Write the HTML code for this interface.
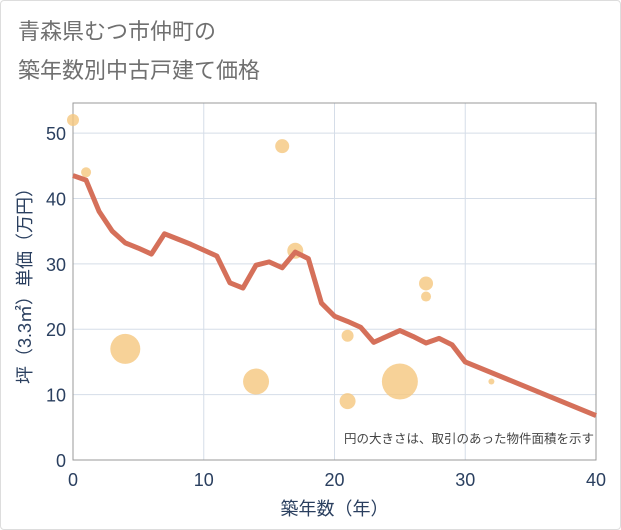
<!DOCTYPE html>
<html><head><meta charset="utf-8"><style>
body{margin:0;background:#fff;font-family:"Liberation Sans","Noto Sans CJK JP",sans-serif;}
#card{position:absolute;left:0;top:0;width:619px;height:528px;border:1px solid #ddd;border-radius:4px;}
</style></head><body>
<div id="card"></div>
<svg id="chart" width="621" height="530" style="position:absolute;left:0;top:0">
<text x="18" y="39" font-size="22" fill="#707070">青森県むつ市仲町の</text>
<text x="18" y="78" font-size="22" fill="#707070">築年数別中古戸建て価格</text>
</svg>
<script>
const xTicks=[0,10,20,30,40];
const yTicks=[0,10,20,30,40,50];
const lineX=[0,1,2,3,4,5,6,7,8,9,10,11,12,13,14,15,16,17,18,19,20,21,22,23,24,25,26,27,28,29,30,40];
const lineY=[43.5,42.8,38,35,33.2,32.4,31.5,34.6,33.8,33,32.1,31.2,27.1,26.3,29.8,30.3,29.4,31.8,30.8,24,22,21.2,20.3,18,18.9,19.8,18.9,17.9,18.6,17.6,15,6.8];
const bubX=[0,1,4,14,16,17,21,21,25,27,27,32];
const bubY=[52,44,17,12,48,32,19,9,12,27,25,12];
const bubR=[6,5,15,13,7,8,6,8,18,7,5,3];
const L=73,R=596,T=103,B=460;
const sx=v=>L+(R-L)*v/40;
const sy=v=>B-(B-T)*v/54.6;
const svg=document.getElementById('chart');
const NS='http://www.w3.org/2000/svg';
const TC='#2a3f5f';
function mk(t,a){const e=document.createElementNS(NS,t);for(const k in a)e.setAttribute(k,a[k]);svg.appendChild(e);return e;}
xTicks.forEach(v=>{const g=mk('line',{x1:sx(v),x2:sx(v),y1:T,y2:B,stroke:'#d5dde8','stroke-width':1});

const t=mk('text',{x:sx(v),y:B+26,'text-anchor':'middle','font-size':18,fill:TC});t.textContent=v;
});
yTicks.forEach(v=>{const g=mk('line',{x1:L,x2:R,y1:sy(v),y2:sy(v),stroke:'#d5dde8','stroke-width':1});

const t=mk('text',{x:L-7,y:sy(v)+7,'text-anchor':'end','font-size':18,fill:TC});t.textContent=v;
});
const box=mk('rect',{x:L,y:T,width:R-L,height:B-T,fill:'none',stroke:'#999','stroke-width':1});

bubX.forEach((v,i)=>{const c=mk('circle',{cx:sx(v),cy:sy(bubY[i]),r:bubR[i],fill:'#f5c77e','fill-opacity':0.8});
});
const p=mk('polyline',{points:lineX.map((v,i)=>sx(v)+','+sy(lineY[i])).join(' '),fill:'none',stroke:'#d5705a','stroke-width':5,'stroke-linejoin':'round'});

const n=mk('text',{x:R-2,y:443,'text-anchor':'end','font-size':12.5,fill:'#444'});n.textContent='円の大きさは、取引のあった物件面積を示す';

const xt=mk('text',{x:(L+R)/2,y:515,'text-anchor':'middle','font-size':18,fill:TC});xt.textContent='築年数（年）';

const yt=mk('text',{x:0,y:0,'text-anchor':'middle','font-size':18,fill:TC,transform:'translate(31,'+((T+B)/2)+') rotate(-90)'});yt.textContent='坪（3.3㎡）単価（万円）';

</script>
</body></html>
